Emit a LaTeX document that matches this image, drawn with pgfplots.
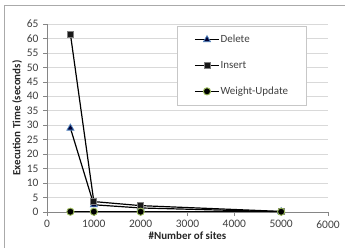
\documentclass[border=0pt]{standalone}
\usepackage{pgfplots}
\pgfplotsset{compat=1.18}
\usepackage{fontspec}
\setmainfont{Carlito}
\definecolor{txt}{HTML}{404040}
\definecolor{axgray}{HTML}{868686}
\definecolor{gridgray}{HTML}{D9D9D9}
\definecolor{dblue}{HTML}{4F81BD}
\definecolor{dgreen}{HTML}{9BBB59}
\begin{document}
\begin{tikzpicture}
\useasboundingbox (-47bp,-36bp) rectangle (298bp,212bp);
\begin{axis}[
  at={(0,0)}, anchor=origin,
  scale only axis, width=281bp, height=188bp,
  xmin=0, xmax=6000, ymin=0, ymax=65,
  xtick={0,1000,...,6000}, ytick={0,5,...,65},
  axis lines*=left,
  axis line style={axgray, line width=0.6pt},
  tick style={axgray, line width=0.6pt},
  tick align=outside, major tick length=4bp,
  ymajorgrids, grid style={gridgray, line width=0.6pt},
  /pgf/number format/assume math mode=true,
  /pgf/number format/set thousands separator={},
  ticklabel style={font=\fontsize{11.5}{13}\selectfont, text=txt},
  xticklabel style={yshift=-1bp},
  yticklabel style={xshift=-1bp},
  xlabel={\textbf{\#Number of sites}},
  ylabel={\textbf{Execution Time (seconds)}},
  label style={font=\fontsize{11}{13}\selectfont, text=black!85},
  xlabel style={yshift=3bp},
  ylabel style={yshift=-2bp},
  legend style={at={(rel axis cs:0.463,0.99)}, anchor=north west,
    draw=gridgray!80!gray, line width=0.6pt, inner xsep=17bp, inner ysep=8bp,
    row sep=15bp, font=\fontsize{11}{13}\selectfont, text=txt,
    nodes={inner xsep=1bp, inner ysep=1bp}},
  legend cell align=left,
  legend image code/.code={\draw[mark repeat=2,mark phase=2,#1] plot coordinates {(0,0) (12bp,0) (24bp,0)};},
  every axis plot/.append style={line width=1.2pt, black},
  clip=false,
]
\addplot[mark=triangle*, mark size=4bp, mark options={fill=black!80!blue, draw=dblue, line width=0.8pt}]
  coordinates {(500,29) (1000,2.5) (2000,1.4) (5000,0.1)};
\addlegendentry{Delete}
\addplot[mark=square*, mark size=3bp, mark options={fill=black!90, draw=gray, line width=0.8pt}]
  coordinates {(500,61.5) (1000,3.6) (2000,2.2) (5000,0.2)};
\addlegendentry{Insert}
\addplot[mark=*, mark size=3.6bp, mark options={fill=black, draw=dgreen, line width=0.9pt}]
  coordinates {(500,0.1) (1000,0.1) (2000,0.1) (5000,0.1)};
\addlegendentry{Weight-Update}
\end{axis}
\draw[axgray!70, line width=0.8pt] (-43bp,-36bp) -- (-43bp,207bp) -- (298bp,207bp);
\end{tikzpicture}
\end{document}
